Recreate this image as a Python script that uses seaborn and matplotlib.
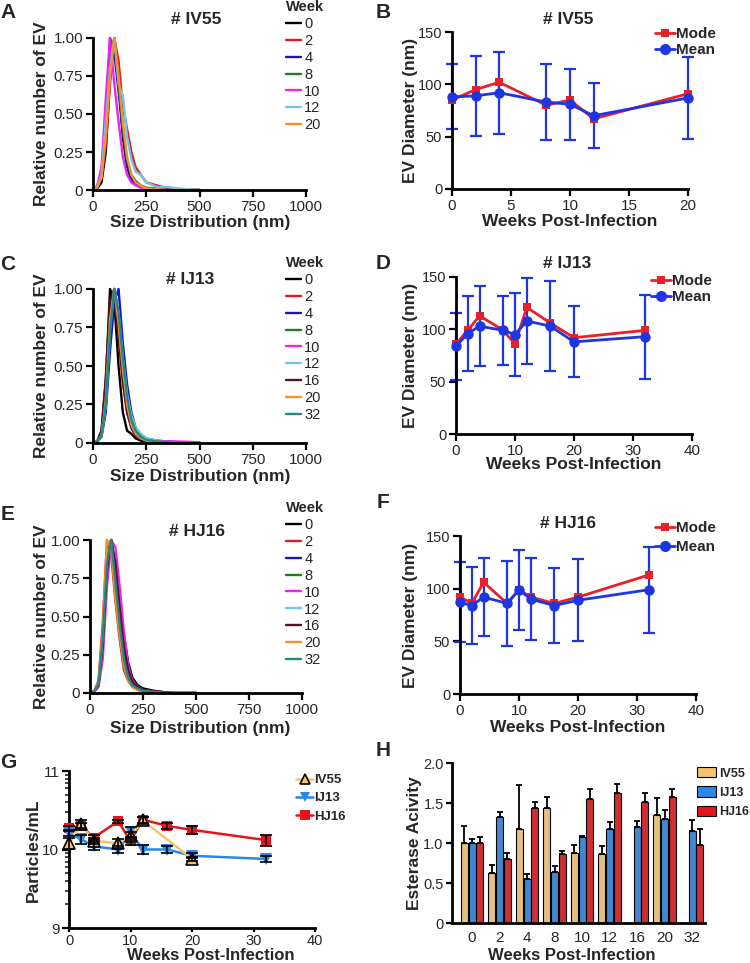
import numpy as np
import pandas as pd
import matplotlib
matplotlib.use('Agg')
import matplotlib.pyplot as plt
import seaborn as sns
from matplotlib.lines import Line2D
from matplotlib.patches import Patch

# ---------------- data ----------------
# size grid (nm) for the normalised size distributions
size_nm = [0, 20, 40, 60, 80, 100, 120, 140, 160, 180, 200, 225, 250, 300, 350, 400, 500]

# A: IV55
iv55_w0 = [0, 0.01, 0.05, 0.25, 0.75, 1.0, 0.72, 0.35, 0.15, 0.07, 0.04, 0.02, 0.01, 0.005, 0.002, 0, 0]
iv55_w2 = [0, 0.02, 0.08, 0.30, 0.70, 1.0, 0.85, 0.55, 0.40, 0.25, 0.15, 0.10, 0.05, 0.03, 0.01, 0.005, 0]
iv55_w4 = [0, 0.02, 0.10, 0.40, 1.0, 0.90, 0.65, 0.38, 0.18, 0.08, 0.04, 0.02, 0.01, 0.01, 0.005, 0, 0]
iv55_w8 = [0, 0.02, 0.10, 0.40, 0.85, 1.0, 0.70, 0.40, 0.20, 0.10, 0.06, 0.03, 0.015, 0.01, 0, 0, 0]
iv55_w10 = [0, 0.03, 0.15, 0.60, 1.0, 0.70, 0.45, 0.22, 0.10, 0.05, 0.03, 0.015, 0.01, 0.005, 0, 0, 0]
iv55_w12 = [0, 0.02, 0.10, 0.45, 0.80, 1.0, 0.70, 0.62, 0.35, 0.20, 0.12, 0.10, 0.05, 0.02, 0.02, 0.01, 0]
iv55_w20 = [0, 0.02, 0.08, 0.35, 0.75, 1.0, 0.75, 0.45, 0.22, 0.10, 0.05, 0.03, 0.01, 0.005, 0, 0, 0]

# C: IJ13
ij13_w0 = [0, 0.01, 0.08, 0.40, 1.0, 0.92, 0.50, 0.20, 0.08, 0.06, 0.03, 0.015, 0.01, 0.005, 0, 0, 0]
ij13_w2 = [0, 0.01, 0.06, 0.30, 0.85, 1.0, 0.70, 0.40, 0.20, 0.10, 0.05, 0.03, 0.02, 0.01, 0.005, 0, 0]
ij13_w4 = [0, 0.01, 0.04, 0.20, 0.60, 0.92, 1.0, 0.65, 0.38, 0.20, 0.10, 0.05, 0.03, 0.015, 0.01, 0.005, 0]
ij13_w8 = [0, 0.01, 0.05, 0.25, 0.75, 1.0, 0.85, 0.55, 0.30, 0.15, 0.08, 0.04, 0.02, 0.01, 0.005, 0, 0]
ij13_w10 = [0, 0.01, 0.05, 0.30, 0.80, 1.0, 0.75, 0.45, 0.22, 0.12, 0.06, 0.03, 0.02, 0.015, 0.01, 0.01, 0.005]
ij13_w12 = [0, 0.01, 0.05, 0.25, 0.75, 1.0, 0.85, 0.55, 0.32, 0.18, 0.10, 0.06, 0.03, 0.015, 0.005, 0, 0]
ij13_w16 = [0, 0.01, 0.08, 0.42, 0.92, 1.0, 0.70, 0.40, 0.20, 0.10, 0.05, 0.03, 0.015, 0.01, 0.005, 0, 0]
ij13_w20 = [0, 0.01, 0.05, 0.28, 0.80, 1.0, 0.78, 0.48, 0.25, 0.12, 0.06, 0.03, 0.015, 0.01, 0.005, 0, 0]
ij13_w32 = [0, 0.01, 0.05, 0.25, 0.72, 1.0, 0.85, 0.55, 0.30, 0.15, 0.08, 0.04, 0.02, 0.01, 0.005, 0, 0]

# E: HJ16
hj16_w0 = [0, 0.01, 0.05, 0.30, 0.85, 1.0, 0.75, 0.55, 0.38, 0.20, 0.10, 0.05, 0.03, 0.015, 0.005, 0, 0]
hj16_w2 = [0, 0.01, 0.08, 0.45, 1.0, 0.90, 0.60, 0.35, 0.15, 0.08, 0.04, 0.02, 0.01, 0.005, 0, 0, 0]
hj16_w4 = [0, 0.01, 0.05, 0.30, 0.80, 1.0, 0.80, 0.55, 0.30, 0.15, 0.08, 0.04, 0.02, 0.01, 0.005, 0, 0]
hj16_w8 = [0, 0.01, 0.06, 0.35, 0.85, 1.0, 0.70, 0.45, 0.22, 0.10, 0.05, 0.03, 0.015, 0.005, 0, 0, 0]
hj16_w10 = [0, 0.01, 0.04, 0.22, 0.70, 1.0, 0.95, 0.70, 0.40, 0.18, 0.08, 0.04, 0.02, 0.01, 0.005, 0, 0]
hj16_w12 = [0, 0.01, 0.05, 0.30, 0.82, 1.0, 0.75, 0.48, 0.25, 0.12, 0.06, 0.03, 0.015, 0.005, 0, 0, 0]
hj16_w16 = [0, 0.01, 0.05, 0.30, 0.80, 1.0, 0.85, 0.55, 0.30, 0.15, 0.07, 0.04, 0.02, 0.01, 0.005, 0, 0]
hj16_w20 = [0, 0.01, 0.07, 0.40, 1.0, 0.95, 0.62, 0.38, 0.18, 0.08, 0.04, 0.02, 0.01, 0.005, 0, 0, 0]
hj16_w32 = [0, 0.01, 0.06, 0.35, 0.85, 1.0, 0.72, 0.45, 0.22, 0.10, 0.05, 0.03, 0.015, 0.005, 0, 0, 0]

weeks_iv55 = [0, 2, 4, 8, 10, 12, 20]
weeks_all = [0, 2, 4, 8, 10, 12, 16, 20, 32]

# B/D/F: EV diameter (nm)
iv55_mode = [85, 95, 102, 80, 85, 67, 91]
iv55_mean = [88, 89, 92, 83, 81, 70, 87]
iv55_sd = [31, 38, 39, 36, 34, 31, 39]

ij13_mode = [86, 99, 113, 99, 86, 121, 106, 92, 99]
ij13_mean = [84, 96, 103, 99, 95, 108, 103, 88, 93]
ij13_sd = [32, 36, 38, 33, 40, 41, 43, 34, 40]

hj16_mode = [92, 86, 106, 86, 99, 92, 86, 92, 113]
hj16_mean = [87, 84, 92, 86, 99, 90, 84, 89, 99]
hj16_sd = [38, 37, 37, 40, 38, 39, 36, 39, 41]

# G: log10 particles/mL
g_iv55 = [10.08, 10.32, 10.11, 10.08, 10.17, 10.37, 9.88]
g_iv55_err = [0.07, 0.05, 0.04, 0.06, 0.05, 0.04, 0.03]
g_ij13 = [10.21, 10.13, 10.04, 10.00, 10.22, 10.00, 10.00, 9.92, 9.88]
g_ij13_err = [0.04, 0.06, 0.05, 0.04, 0.07, 0.06, 0.05, 0.03, 0.04]
g_hj16 = [10.27, 10.30, 10.15, 10.36, 10.11, 10.38, 10.30, 10.25, 10.12]
g_hj16_err = [0.03, 0.04, 0.03, 0.02, 0.05, 0.04, 0.04, 0.05, 0.07]

# H: esterase activity
h_weeks = ['0', '2', '4', '8', '10', '12', '16', '20', '32']
h_iv55 = [1.0, 0.62, 1.18, 1.44, 0.88, 0.86, None, 1.35, None]
h_iv55_err = [0.21, 0.10, 0.54, 0.14, 0.10, 0.10, None, 0.21, None]
h_ij13 = [1.0, 1.32, 0.55, 0.64, 1.07, 1.17, 1.20, 1.30, 1.15]
h_ij13_err = [0.05, 0.07, 0.06, 0.07, 0.02, 0.09, 0.08, 0.11, 0.14]
h_hj16 = [1.0, 0.80, 1.44, 0.86, 1.55, 1.63, 1.51, 1.58, 0.97]
h_hj16_err = [0.07, 0.07, 0.07, 0.04, 0.12, 0.11, 0.12, 0.10, 0.21]

# ---------------- style ----------------
sns.set_style('ticks')
plt.rcParams['font.family'] = ['Liberation Sans', 'DejaVu Sans']

week_colors = {0: '#000000', 2: '#e3191c', 4: '#1414c8', 8: '#1e7d1e', 10: '#f020f0',
               12: '#6ec6f0', 16: '#5a0f32', 20: '#f39030', 32: '#208a80'}
mode_col = '#e8202a'
mean_col = '#1f35e0'
c_iv55 = '#f5c36e'
c_ij13 = '#2a86e8'
c_hj16 = '#e8141b'

W, H = 750, 963
fig = plt.figure(figsize=(7.5, 9.63), dpi=100)


def add_ax(l, t, r, b):
    ax = fig.add_axes([l / W, 1 - b / H, (r - l) / W, (b - t) / H])
    sns.despine(ax=ax)
    for s in ['left', 'bottom']:
        ax.spines[s].set_linewidth(2.0)
        ax.spines[s].set_color('black')
    ax.tick_params(direction='out', length=5, width=1.6, labelsize=11, pad=2, color='black')
    return ax


def ftext(x, y, s, size=12.5, rot=0, weight='bold', ha='center'):
    fig.text(x / W, 1 - y / H, s, fontsize=size, fontweight=weight, rotation=rot,
             ha=ha, va='center')


def dist_panel(box, curves, weeks, title, title_xy, leg_top, ylab_y, xlab_y):
    ax = add_ax(*box)
    rows = []
    for wk, vals in zip(weeks, curves):
        for s, v in zip(size_nm, vals):
            rows.append((s, v, str(wk)))
    df = pd.DataFrame(rows, columns=['size', 'rel', 'Week'])
    sns.lineplot(data=df, x='size', y='rel', hue='Week', hue_order=[str(w) for w in weeks],
                 palette={str(w): week_colors[w] for w in weeks}, lw=1.7, ax=ax,
                 clip_on=False)
    ax.set_xlim(0, 1000)
    ax.set_ylim(0, 1)
    ax.set_xticks([0, 250, 500, 750, 1000])
    ax.set_yticks([0, 0.25, 0.5, 0.75, 1.0], labels=['0', '0.25', '0.50', '0.75', '1.00'])
    ax.set_xlabel('')
    ax.set_ylabel('')
    h, l = ax.get_legend_handles_labels()
    ax.legend(h, l, title='Week', loc='upper left', bbox_to_anchor=(286 / W, 1 - leg_top / H),
              bbox_transform=fig.transFigure, frameon=False, fontsize=10.5,
              title_fontproperties={'weight': 'bold', 'size': 10.5}, alignment='left',
              handlelength=1.0, handletextpad=0.25, labelspacing=0.2, borderpad=0,
              borderaxespad=0)
    ftext(title_xy[0], title_xy[1], title)
    ftext(42, ylab_y, 'Relative number of EV', rot=90)
    ftext(200, xlab_y, 'Size Distribution (nm)')
    return ax


def diam_panel(box, weeks, mode, mean, sd, title, title_xy, leg_xy, xmax, xstep,
               ylab_y, xlab_xy, leg_space):
    ax = add_ax(*box)
    ax.errorbar(weeks, mean, yerr=sd, fmt='none', ecolor=mean_col, elinewidth=1.6,
                capsize=4, capthick=1.6, clip_on=False, zorder=2)
    sns.lineplot(x=weeks, y=mode, color=mode_col, marker='s', markersize=6, mew=0, lw=2,
                 ax=ax, clip_on=False, zorder=3)
    sns.lineplot(x=weeks, y=mean, color=mean_col, marker='o', markersize=7.5, mew=0, lw=2,
                 ax=ax, clip_on=False, zorder=4)
    ax.set_xlim(0, xmax)
    ax.set_ylim(0, 150)
    ax.set_xticks(np.arange(0, xmax + 1, xstep))
    ax.set_yticks([0, 50, 100, 150])
    ax.tick_params(axis='y', labelsize=10.5)
    handles = [Line2D([], [], color=mode_col, marker='s', markersize=6, mew=0, lw=2),
               Line2D([], [], color=mean_col, marker='o', markersize=8, mew=0, lw=2)]
    ax.legend(handles, ['Mode', 'Mean'], loc='upper left',
              bbox_to_anchor=(leg_xy[0] / W, 1 - leg_xy[1] / H), bbox_transform=fig.transFigure,
              frameon=False, prop={'weight': 'bold', 'size': 11}, handlelength=1.3,
              handletextpad=0.1, labelspacing=leg_space, borderpad=0, borderaxespad=0)
    ftext(title_xy[0], title_xy[1], title)
    ftext(410, ylab_y, 'EV Diameter (nm)', rot=90)
    ftext(xlab_xy[0], xlab_xy[1], 'Weeks Post-Infection')
    return ax


# ---------------- A, C, E ----------------
dist_panel((93, 38, 306, 190),
           [iv55_w0, iv55_w2, iv55_w4, iv55_w8, iv55_w10, iv55_w12, iv55_w20],
           weeks_iv55, '# IV55', (196, 20), 0, 114, 222)
dist_panel((93, 289, 306, 443),
           [ij13_w0, ij13_w2, ij13_w4, ij13_w8, ij13_w10, ij13_w12, ij13_w16, ij13_w20, ij13_w32],
           weeks_all, '# IJ13', (190, 280), 256, 366, 476)
dist_panel((90, 540, 302, 693),
           [hj16_w0, hj16_w2, hj16_w4, hj16_w8, hj16_w10, hj16_w12, hj16_w16, hj16_w20, hj16_w32],
           weeks_all, '# HJ16', (197, 531), 501, 617, 728)

# ---------------- B, D, F ----------------
diam_panel((452, 32, 688, 189), weeks_iv55, iv55_mode, iv55_mean, iv55_sd, '# IV55',
           (568, 20), (655, 27), 20, 5, 110, (570, 222), 0.15)
diam_panel((456, 277, 692, 434), weeks_all, ij13_mode, ij13_mean, ij13_sd, '# IJ13',
           (567, 263), (651, 274), 40, 10, 355, (574, 464), 0.15)
diam_panel((460, 536, 696, 694), weeks_all, hj16_mode, hj16_mean, hj16_sd, '# HJ16',
           (568, 523), (655, 521), 40, 10, 615, (578, 727), 0.35)

# ---------------- G ----------------
axg = add_ax(69, 771, 315, 928)
for wk, vals, errs, col, mk, ms in [(weeks_all, g_hj16, g_hj16_err, c_hj16, 's', 7),
                                     (weeks_all, g_ij13, g_ij13_err, c_ij13, 'v', 8),
                                     (weeks_iv55, g_iv55, g_iv55_err, c_iv55, '^', 8)]:
    sns.lineplot(x=wk, y=vals, color=col, marker=mk, markersize=ms, lw=1.8,
                 mec='black' if mk == '^' else col, mew=1.2 if mk == '^' else 0,
                 ax=axg, clip_on=False, zorder=3)
    axg.errorbar(wk, vals, yerr=errs, fmt='none', ecolor='black', elinewidth=1.2,
                 capsize=4, capthick=1.2, clip_on=False, zorder=4)
axg.set_xlim(0, 40)
axg.set_ylim(9, 11)
axg.set_xticks([0, 10, 20, 30, 40])
axg.set_yticks([9, 10, 11])
axg.set_yticks([n + np.log10(k) for n in (9, 10) for k in range(2, 10)], minor=True)
axg.tick_params(axis='y', which='minor', length=3, width=1.2, left=True)
axg.tick_params(axis='x', length=3, pad=1, labelsize=10.5)
g_handles = [Line2D([], [], color=c_iv55, marker='^', markersize=7, mfc=c_iv55, mec='black',
                    mew=1.2, lw=1.8),
             Line2D([], [], color=c_ij13, marker='v', markersize=7, mew=0, lw=1.8),
             Line2D([], [], color=c_hj16, marker='s', markersize=6.5, mew=0, lw=1.8)]
axg.legend(g_handles, ['IV55', 'IJ13', 'HJ16'], loc='upper left',
           bbox_to_anchor=(296 / W, 1 - 774 / H), bbox_transform=fig.transFigure,
           frameon=False, prop={'weight': 'bold', 'size': 9.5}, handlelength=1.3,
           handletextpad=0.1, labelspacing=0.45, borderpad=0, borderaxespad=0)
ftext(33, 850, 'Particles/mL', rot=90)
ftext(211, 955, 'Weeks Post-Infection', size=12)

# ---------------- H ----------------
axh = add_ax(452, 763, 705, 923)
samples = ['IV55', 'IJ13', 'HJ16']
rows = []
for name, vals, errs in [('IV55', h_iv55, h_iv55_err), ('IJ13', h_ij13, h_ij13_err),
                         ('HJ16', h_hj16, h_hj16_err)]:
    for wk, v, e in zip(h_weeks, vals, errs):
        if v is not None:
            rows.append((wk, name, v, e))
df_h = pd.DataFrame(rows, columns=['Week', 'Sample', 'Activity', 'Err'])
sns.barplot(data=df_h, x='Week', y='Activity', hue='Sample', order=h_weeks, hue_order=samples,
            palette={'IV55': c_iv55, 'IJ13': c_ij13, 'HJ16': c_hj16}, width=0.86, gap=0.12,
            edgecolor='black', linewidth=0.8, errorbar=None, legend=False, ax=axh)
for cont, name in zip(axh.containers, samples):
    for bar in cont:
        xc = bar.get_x() + bar.get_width() / 2
        wk = h_weeks[int(round(xc))]
        sel = df_h[(df_h['Week'] == wk) & (df_h['Sample'] == name)]
        if len(sel):
            axh.errorbar(xc, bar.get_height(), yerr=[[0], [sel['Err'].iloc[0]]], fmt='none',
                         ecolor='black', elinewidth=1.3, capsize=2.5, capthick=1.3, zorder=4)
axh.set_xlim(-0.73, 8.47)
axh.set_ylim(0, 2)
axh.set_yticks([0, 0.5, 1.0, 1.5, 2.0], labels=['0', '0.5', '1.0', '1.5', '2.0'])
axh.tick_params(axis='y', labelsize=10.5, length=4)
axh.tick_params(axis='x', length=0, pad=6)
axh.set_xlabel('')
axh.set_ylabel('')
h_handles = [Patch(facecolor=c, edgecolor='black', linewidth=0.8) for c in (c_iv55, c_ij13, c_hj16)]
axh.legend(h_handles, samples, loc='upper left', bbox_to_anchor=(697 / W, 1 - 767 / H),
           bbox_transform=fig.transFigure, frameon=False, prop={'weight': 'bold', 'size': 9},
           handlelength=1.5, handleheight=0.9, handletextpad=0.25, labelspacing=0.55,
           borderpad=0, borderaxespad=0)
ftext(414, 843, 'Esterase Acivity', rot=90)
ftext(572, 955, 'Weeks Post-Infection', size=12)

# panel letters
for letter, x, y in [('A', 8, 12), ('B', 383, 12), ('C', 8, 265), ('D', 383, 263),
                     ('E', 8, 515), ('F', 383, 502), ('G', 8, 762), ('H', 383, 750)]:
    ftext(x, y, letter, size=15)

fig.savefig('out.png', dpi=100)
